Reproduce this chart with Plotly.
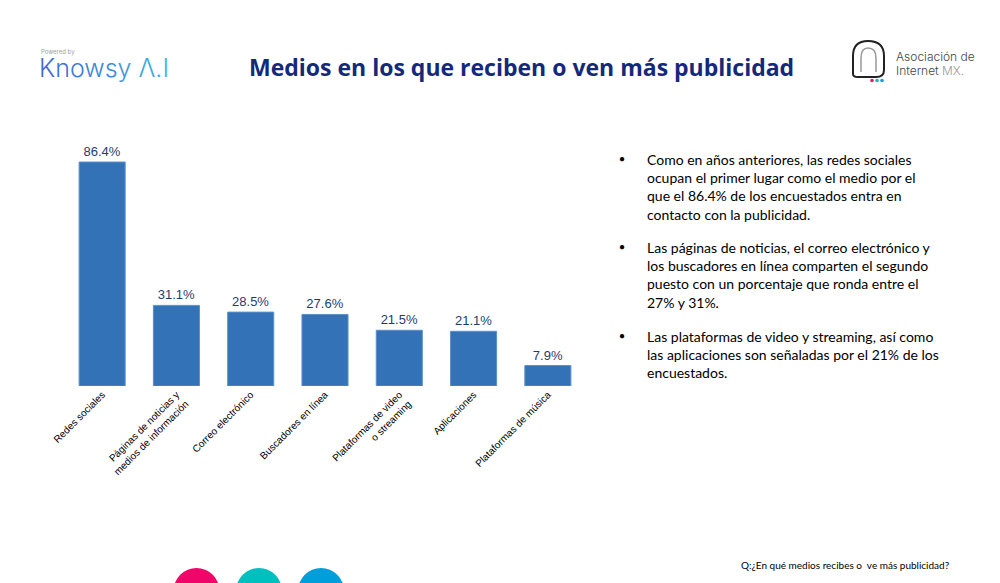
import plotly.graph_objects as go

# datos del grafico
medios = ["Redes sociales", "Páginas de noticias y<br>medios de información", "Correo electrónico",
          "Buscadores en línea", "Plataformas de video<br>o streaming", "Aplicaciones", "Plataformas de música"]
porcentajes = [86.4, 31.1, 28.5, 27.6, 21.5, 21.1, 7.9]
etiquetas = [f"{v}%" for v in porcentajes]

titulo = "Medios en los que reciben o ven más publicidad"
pregunta = "Q:¿En qué medios recibes o  ve más publicidad?"
parrafos = [
    "Como en años anteriores, las redes sociales<br>ocupan el primer lugar como el medio por el<br>"
    "que el 86.4% de los encuestados entra en<br>contacto con la publicidad.",
    "Las páginas de noticias, el correo electrónico y<br>los buscadores en línea comparten el segundo<br>"
    "puesto con un porcentaje que ronda entre el<br>27% y 31%.",
    "Las plataformas de video y streaming, así como<br>las aplicaciones son señaladas por el 21% de los<br>"
    "encuestados.",
]

# la pagina tiene 8px de margen en el body
OFF = 8
W, H = 1000 - OFF, 583 - OFF

def px_x(x):
    return (x - OFF) / W

def px_y(y):
    return 1 - (y - OFF) / H

fig = go.Figure()
fig.add_trace(go.Bar(x=medios, y=porcentajes, text=etiquetas, textposition="outside",
                     marker=dict(color="#3372B6", line=dict(color="#5C8FCB", width=1)),
                     textfont=dict(family="Liberation Sans, Arial", size=13, color="#1F3B6E"),
                     cliponaxis=False, hoverinfo="none"))

fig.update_layout(
    width=W, height=H,
    margin=dict(l=0, r=0, t=0, b=0),
    paper_bgcolor="white", plot_bgcolor="white",
    showlegend=False, bargap=0.38,
    font=dict(family="Liberation Sans, Arial", color="black"),
    xaxis=dict(domain=[px_x(65), px_x(585)], tickangle=-45, showline=False, ticks="",
               tickfont=dict(size=10, color="black"), automargin=False),
    yaxis=dict(domain=[px_y(386), px_y(140)], range=[0, 94.9], visible=False),
)

# titulo
fig.add_annotation(x=px_x(521), y=px_y(67), xref="paper", yref="paper", text=f"<b>{titulo}</b>",
                   showarrow=False, yanchor="middle",
                   font=dict(family="Open Sans", size=23, color="#14297A"))

# logo Knowsy
fig.add_annotation(x=px_x(39), y=px_y(52), xref="paper", yref="paper", text="Powered by",
                   showarrow=False, xanchor="left", yanchor="middle",
                   font=dict(family="Inter", size=6, color="#9aa0a8"))
colores_logo = ["#3F68D4", "#3E72D6", "#3D7BD8", "#3C85DA", "#3B8EDC", "#3A97DD", "#39A0DE",
                "#38A8DF", "#37AFE0", "#36B6E1"]
logo = "".join(f"<span style='color:{c}'>{ch}</span>" for ch, c in zip("Knowsy Λ.I", colores_logo))
fig.add_annotation(x=px_x(37), y=px_y(68), xref="paper", yref="paper", text=logo,
                   showarrow=False, xanchor="left", yanchor="middle",
                   font=dict(family="Inter", size=25, color="#3C8FD8", weight=300))

# logo Asociacion de Internet MX
fig.add_shape(type="path", xref="paper", yref="paper",
              path=f"M {px_x(853)},{px_y(74)} L {px_x(853)},{px_y(56)} Q {px_x(853)},{px_y(41)} {px_x(868)},{px_y(41)} "
                   f"Q {px_x(884)},{px_y(41)} {px_x(884)},{px_y(56)} L {px_x(884)},{px_y(70)} "
                   f"Q {px_x(884)},{px_y(77)} {px_x(876)},{px_y(77)} L {px_x(858)},{px_y(77)} "
                   f"Q {px_x(853)},{px_y(77)} {px_x(853)},{px_y(74)}",
              line=dict(color="#222", width=2))
fig.add_shape(type="path", xref="paper", yref="paper",
              path=f"M {px_x(861)},{px_y(72)} L {px_x(861)},{px_y(58)} Q {px_x(861)},{px_y(48)} {px_x(868)},{px_y(48)} "
                   f"Q {px_x(876)},{px_y(48)} {px_x(876)},{px_y(58)} L {px_x(876)},{px_y(72)}",
              line=dict(color="#999", width=1.5))
for cx, col in [(872, "#E8175D"), (877, "#1BB4C4"), (882, "#1F9AD6")]:
    fig.add_shape(type="circle", xref="paper", yref="paper",
                  x0=px_x(cx - 1.8), x1=px_x(cx + 1.8), y0=px_y(82.3), y1=px_y(78.7),
                  fillcolor=col, line=dict(width=0))
fig.add_annotation(x=px_x(894), y=px_y(56), xref="paper", yref="paper", text="Asociación de",
                   showarrow=False, xanchor="left", yanchor="middle",
                   font=dict(family="Inter", size=12, color="#444", weight=300))
fig.add_annotation(x=px_x(894), y=px_y(70), xref="paper", yref="paper",
                   text="Internet <span style='color:#999'>MX.</span>",
                   showarrow=False, xanchor="left", yanchor="middle",
                   font=dict(family="Inter", size=12, color="#444", weight=300))

# texto lateral
y_parrafos = [158, 246, 335]
for yp, txt in zip(y_parrafos, parrafos):
    fig.add_annotation(x=px_x(622), y=px_y(yp), xref="paper", yref="paper", text="●",
                       showarrow=False, yanchor="middle", font=dict(size=10, color="black"))
    fig.add_annotation(x=px_x(645), y=px_y(yp - 9), xref="paper", yref="paper", text=txt,
                       showarrow=False, xanchor="left", yanchor="top", align="left",
                       font=dict(family="Lato", size=14, color="black"))

# pregunta
fig.add_annotation(x=px_x(952), y=px_y(565), xref="paper", yref="paper", text=pregunta,
                   showarrow=False, xanchor="right", yanchor="middle",
                   font=dict(family="Lato", size=10, color="black"))

# circulos inferiores
for cx, col in [(196.5, "#F0066A"), (259, "#00BFBF"), (321, "#009FDC")]:
    fig.add_shape(type="circle", xref="paper", yref="paper",
                  x0=px_x(cx - 23), x1=px_x(cx + 23), y0=px_y(614), y1=px_y(568),
                  fillcolor=col, line=dict(width=0))

fig.write_html("out.html")
